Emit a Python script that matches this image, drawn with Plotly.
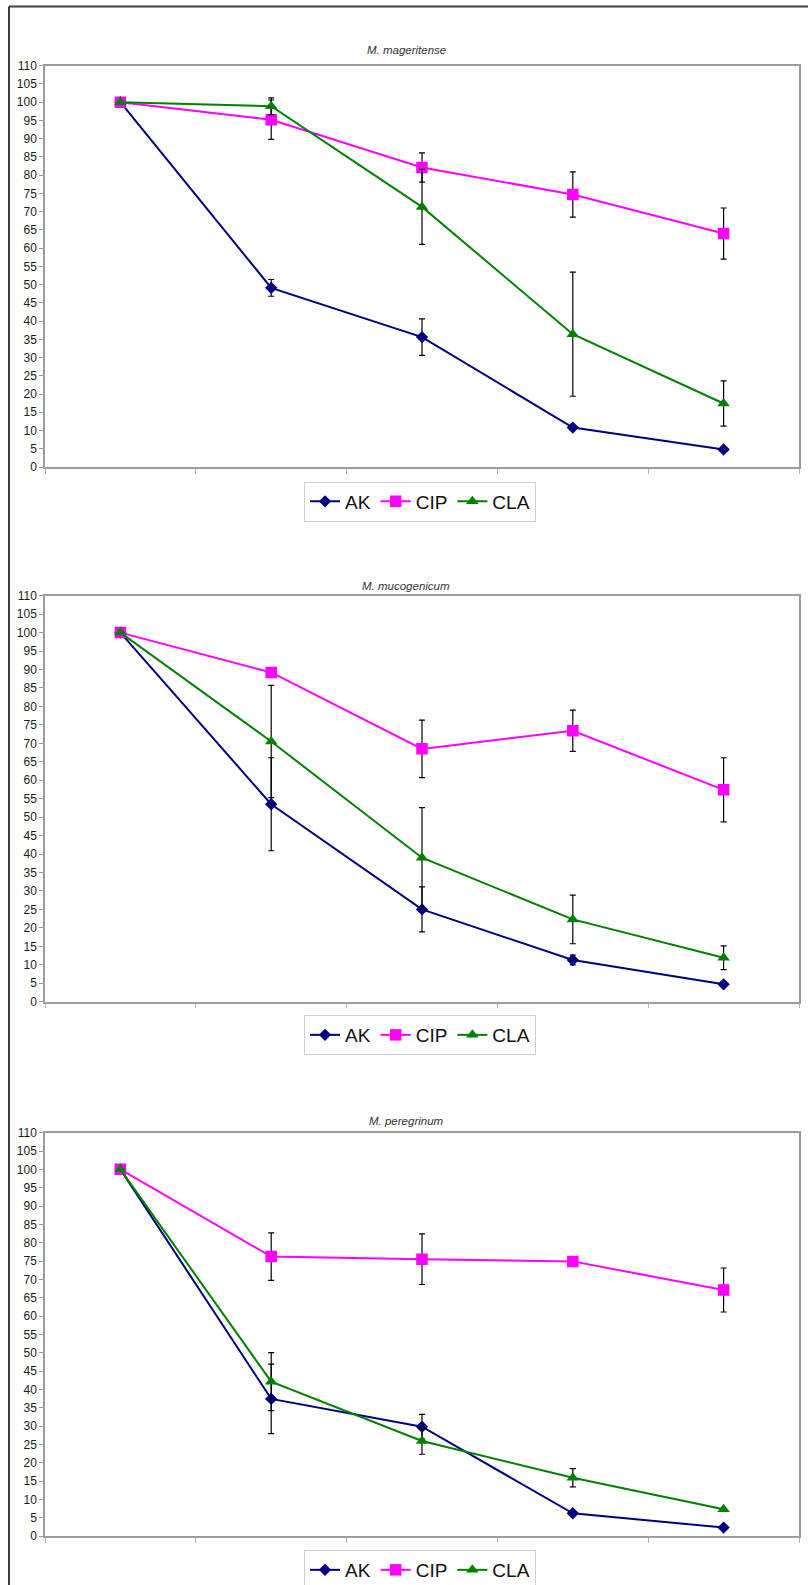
import plotly.graph_objects as go

# Five sampling points per species (no axis labels are shown for them)
points = [1, 2, 3, 4, 5]
y_ticks = list(range(0, 111, 5))

species = ["M. mageritense", "M. mucogenicum", "M. peregrinum"]
drugs = ["AK", "CIP", "CLA"]

# M. mageritense
mag_ak = [100, 49.1, 35.6, 10.8, 4.8]
mag_ak_err = [None, 2.3, 5.0, None, None]
mag_cip = [100, 95.2, 82.1, 74.7, 64.0]
mag_cip_err = [None, 5.4, 4.0, 6.2, 7.0]
mag_cla = [100, 98.9, 71.3, 36.4, 17.4]
mag_cla_err = [None, 2.3, 10.3, 17.0, 6.2]

# M. mucogenicum
muc_ak = [100, 53.5, 25.0, 11.3, 4.7]
muc_ak_err = [None, 12.6, 6.1, 1.3, None]
muc_cip = [100, 89.2, 68.5, 73.4, 57.4]
muc_cip_err = [None, None, 7.8, 5.6, 8.7]
muc_cla = [100, 70.5, 39.0, 22.3, 11.9]
muc_cla_err = [None, 15.2, 13.6, 6.6, 3.2]

# M. peregrinum
per_ak = [100, 37.4, 29.8, 6.2, 2.3]
per_ak_err = [None, 9.5, 3.4, None, None]
per_cip = [100, 76.2, 75.5, 74.9, 67.1]
per_cip_err = [None, 6.5, 6.9, None, 6.0]
per_cla = [100, 42.1, 25.9, 15.9, 7.3]
per_cla_err = [None, 7.9, 3.6, 2.5, None]

panels = [
    [(mag_ak, mag_ak_err), (mag_cip, mag_cip_err), (mag_cla, mag_cla_err)],
    [(muc_ak, muc_ak_err), (muc_cip, muc_cip_err), (muc_cla, muc_cla_err)],
    [(per_ak, per_ak_err), (per_cip, per_cip_err), (per_cla, per_cla_err)],
]

W, H = 808, 1585
FONT = "Arial, Liberation Sans, sans-serif"

colors = {"AK": "#000080", "CIP": "#FF00FF", "CLA": "#008000"}
symbols = {"AK": "diamond", "CIP": "square", "CLA": "triangle-up"}
sizes = {"AK": 9.5, "CIP": 11.5, "CLA": 11}

# pixel geometry of each plot area: (top, bottom), legend centre and title y
plot_left, plot_right = 45, 799
rows = [(65.7, 467.0), (595.7, 1001.7), (1132.7, 1536.0)]
legend_mids = [501.5, 1035, 1570]
title_ys = [50, 586, 1121]


def px_x(p):
    return p / W


def px_y(p):
    return 1 - p / H


fig = go.Figure()

for i, series in enumerate(panels):
    ax = "" if i == 0 else str(i + 1)
    leg = "legend" if i == 0 else f"legend{i + 1}"
    for drug, (vals, errs) in zip(drugs, series):
        fig.add_trace(go.Scatter(
            x=points, y=vals,
            xaxis="x" + ax, yaxis="y" + ax,
            mode="lines+markers",
            name=drug,
            legend=leg,
            line=dict(color=colors[drug], width=2),
            marker=dict(symbol=symbols[drug], size=sizes[drug], color=colors[drug],
                        line=dict(width=0)),
            error_y=dict(type="data", array=errs, visible=True,
                         color="#000000", thickness=1.2, width=3),
        ))

layout = dict(
    width=W, height=H,
    margin=dict(l=0, r=0, t=0, b=0, autoexpand=False),
    paper_bgcolor="white",
    plot_bgcolor="white",
    font=dict(family=FONT, color="#111111"),
    showlegend=True,
)

boundaries = [p - 0.5 for p in points] + [points[-1] + 0.5]

for i, (top, bottom) in enumerate(rows):
    ax = "" if i == 0 else str(i + 1)
    layout["xaxis" + ax] = dict(
        domain=[px_x(plot_left), px_x(plot_right)],
        anchor="y" + ax,
        range=[points[0] - 0.5, points[-1] + 0.5],
        tickmode="array", tickvals=boundaries, ticktext=[""] * len(boundaries),
        ticks="outside", ticklen=5, tickcolor="#b0b0b0", tickwidth=1,
        showgrid=False, zeroline=False,
        showline=True, mirror=True, linecolor="#9c9c9c", linewidth=1.5,
        fixedrange=True,
    )
    layout["yaxis" + ax] = dict(
        domain=[px_y(bottom), px_y(top)],
        anchor="x" + ax,
        range=[0, 110],
        tickmode="array", tickvals=y_ticks, ticktext=[str(v) for v in y_ticks],
        ticks="outside", ticklen=4, tickcolor="#9c9c9c", tickwidth=1,
        tickfont=dict(family=FONT, size=12, color="#1a1a1a"),
        showgrid=False, zeroline=False,
        showline=True, mirror=True, linecolor="#9c9c9c", linewidth=1.5,
        fixedrange=True,
    )
    leg_key = "legend" if i == 0 else f"legend{i + 1}"
    layout[leg_key] = dict(
        orientation="h",
        x=px_x(420), xanchor="center",
        y=px_y(legend_mids[i]), yanchor="middle",
        font=dict(family=FONT, size=19, color="#111111"),
        bgcolor="white",
        bordercolor="#cfcfcf", borderwidth=1,
        itemwidth=30,
        tracegroupgap=0,
    )

fig.update_layout(**layout)

# species titles
for i, name in enumerate(species):
    fig.add_annotation(
        text=f"<i>{name}</i>",
        x=px_x(406), y=px_y(title_ys[i]),
        xref="paper", yref="paper",
        xanchor="center", yanchor="middle",
        showarrow=False,
        font=dict(family=FONT, size=11.5, color="#333333"),
    )

# outer frame (left and top edges)
fig.add_shape(type="line", xref="paper", yref="paper",
              x0=px_x(9), x1=px_x(9), y0=0, y1=px_y(6.5),
              line=dict(color="#3c3c3c", width=2))
fig.add_shape(type="line", xref="paper", yref="paper",
              x0=px_x(9), x1=1, y0=px_y(6.5), y1=px_y(6.5),
              line=dict(color="#3c3c3c", width=2))

fig.write_html("out.html")
